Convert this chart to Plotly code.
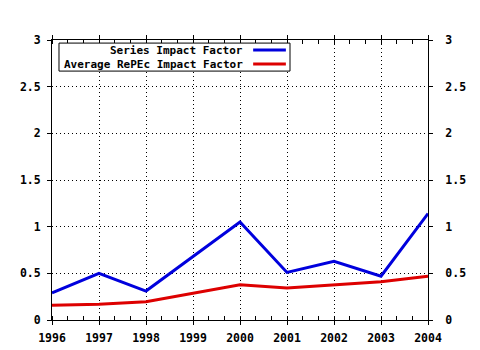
import plotly.graph_objects as go

years = [1996, 1997, 1998, 1999, 2000, 2001, 2002, 2003, 2004]
series_if = [0.29, 0.50, 0.31, 0.68, 1.05, 0.51, 0.63, 0.47, 1.14]
avg_repec_if = [0.157, 0.17, 0.196, 0.286, 0.378, 0.343, 0.38, 0.41, 0.47]
legend_names = ["Series Impact Factor", "Average RePEc Impact Factor"]
colors = ["#0000DD", "#DD0000"]

FONT = dict(family="DejaVu Sans Mono", size=11.5, color="black", weight="bold")
LEGFONT = dict(family="DejaVu Sans Mono", size=11, color="black", weight="bold")
GRIDDASH = "1px,3px"

fig = go.Figure()
fig.add_trace(go.Scatter(x=years, y=series_if, mode="lines",
                         line=dict(color=colors[0], width=3), showlegend=False))
fig.add_trace(go.Scatter(x=years, y=avg_repec_if, mode="lines",
                         line=dict(color=colors[1], width=3), showlegend=False))
# invisible trace to carry right-hand axis
fig.add_trace(go.Scatter(x=years, y=avg_repec_if, mode="lines", yaxis="y2",
                         line=dict(color="rgba(0,0,0,0)", width=0),
                         hoverinfo="skip", showlegend=False))

fig.update_layout(
    width=480, height=350,
    margin=dict(l=52, r=52, t=40, b=30, autoexpand=False),
    paper_bgcolor="white", plot_bgcolor="white",
    font=FONT,
    xaxis=dict(range=[1996, 2004], dtick=1, tick0=1996, automargin=False,
               showline=True, linecolor="black", linewidth=1, mirror="allticks",
               ticks="outside", ticklen=4, tickcolor="black",
               showgrid=True, gridcolor="black", griddash=GRIDDASH, gridwidth=1,
               zeroline=False, tickfont=FONT, ticklabelstandoff=3,
               minor=dict(dtick=1/3, tick0=1996, ticks="inside", ticklen=3,
                          tickcolor="black", showgrid=False)),
    yaxis=dict(range=[0, 3], dtick=0.5, tick0=0, automargin=False,
               showline=True, linecolor="black", linewidth=1,
               ticks="outside", ticklen=4, tickcolor="black",
               showgrid=True, gridcolor="black", griddash=GRIDDASH, gridwidth=1,
               zeroline=False, tickfont=FONT, ticklabelstandoff=4),
    yaxis2=dict(range=[0, 3], dtick=0.5, tick0=0, overlaying="y", side="right",
                automargin=False,
                showline=True, linecolor="black", linewidth=1,
                ticks="outside", ticklen=4, tickcolor="black",
                showgrid=False, zeroline=False, tickfont=FONT,
                ticklabelstandoff=10),
)

# legend box (manual, symbol on the right like the original)
fig.add_shape(type="rect", xref="paper", yref="paper",
              x0=0.0186, x1=0.633, y0=0.889, y1=0.989,
              line=dict(color="black", width=1), fillcolor="white", layer="above")
leg_y = [0.964, 0.914]
for name, col, yy in zip(legend_names, colors, leg_y):
    fig.add_shape(type="line", xref="paper", yref="paper",
                  x0=0.535, x1=0.622, y0=yy, y1=yy,
                  line=dict(color=col, width=3), layer="above")
    fig.add_annotation(text=name, xref="paper", yref="paper", x=0.511, y=yy,
                       xanchor="right", yanchor="middle", showarrow=False,
                       font=LEGFONT, borderpad=0)

fig.write_html("out.html")
